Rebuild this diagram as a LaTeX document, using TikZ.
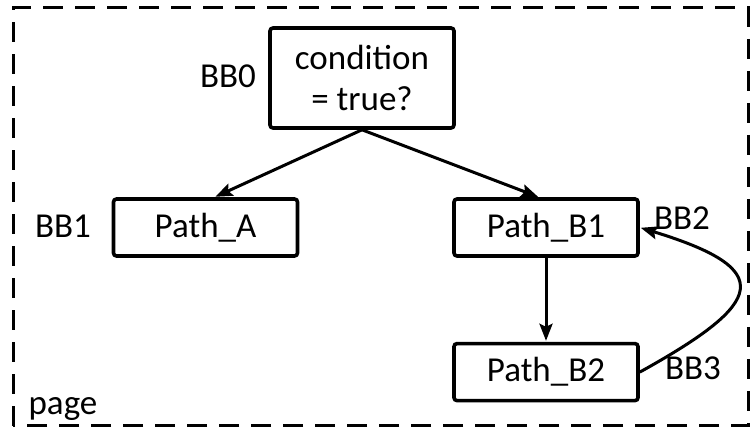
\documentclass[tikz,border=0pt]{standalone}
\usepackage{fontspec}
\setmainfont{Carlito}
\usepackage{tikz}
\usetikzlibrary{arrows.meta,positioning}

\begin{document}
\begin{tikzpicture}[->,>={Stealth[length=17pt,width=13pt,inset=3pt]},shorten >=1pt,
                    x=1pt,y=1pt,line width=3pt]
  \tikzstyle{every node}=[font=\fontsize{35}{41}\selectfont]
  \tikzstyle{block}=[draw,line width=3.6pt,rounded corners=3pt,minimum width=184pt,
                     minimum height=57pt,inner sep=0pt,align=center]
  \tikzstyle{tag}=[inner sep=0pt,anchor=base]

  \useasboundingbox (0,0) rectangle (751,430);
  \draw[-,line width=3pt,dash pattern=on 20pt off 12pt] (13,4) rectangle (748,422);

  \node[block] (Cond)   at (362,352) [minimum height=100pt] {condition\\= true?};
  \node[block] (PathA)  at (205.5,202.5) {Path\_A};
  \node[block] (PathB1) at (546,202.5)   {Path\_B1};
  \node[block] (PathB2) [below=84pt of PathB1] {Path\_B2};

  \node[tag] (BB0)  at (228,342) {BB0};
  \node[tag] (BB1)  at (63,192)  {BB1};
  \node[tag] (BB2)  at (682,200) {BB2};
  \node[tag] (BB3)  at (693,50)  {BB3};
  \node[tag] (Page) at (63,15)   {page};

  \path (Cond.south) edge ([xshift=9pt]PathA.north)
                     edge ([xshift=-7pt]PathB1.north)
        (PathB1) edge (PathB2)
        (PathB2.east) edge [out=29,in=-17,looseness=2.55] (PathB1.east);
\end{tikzpicture}
\end{document}
